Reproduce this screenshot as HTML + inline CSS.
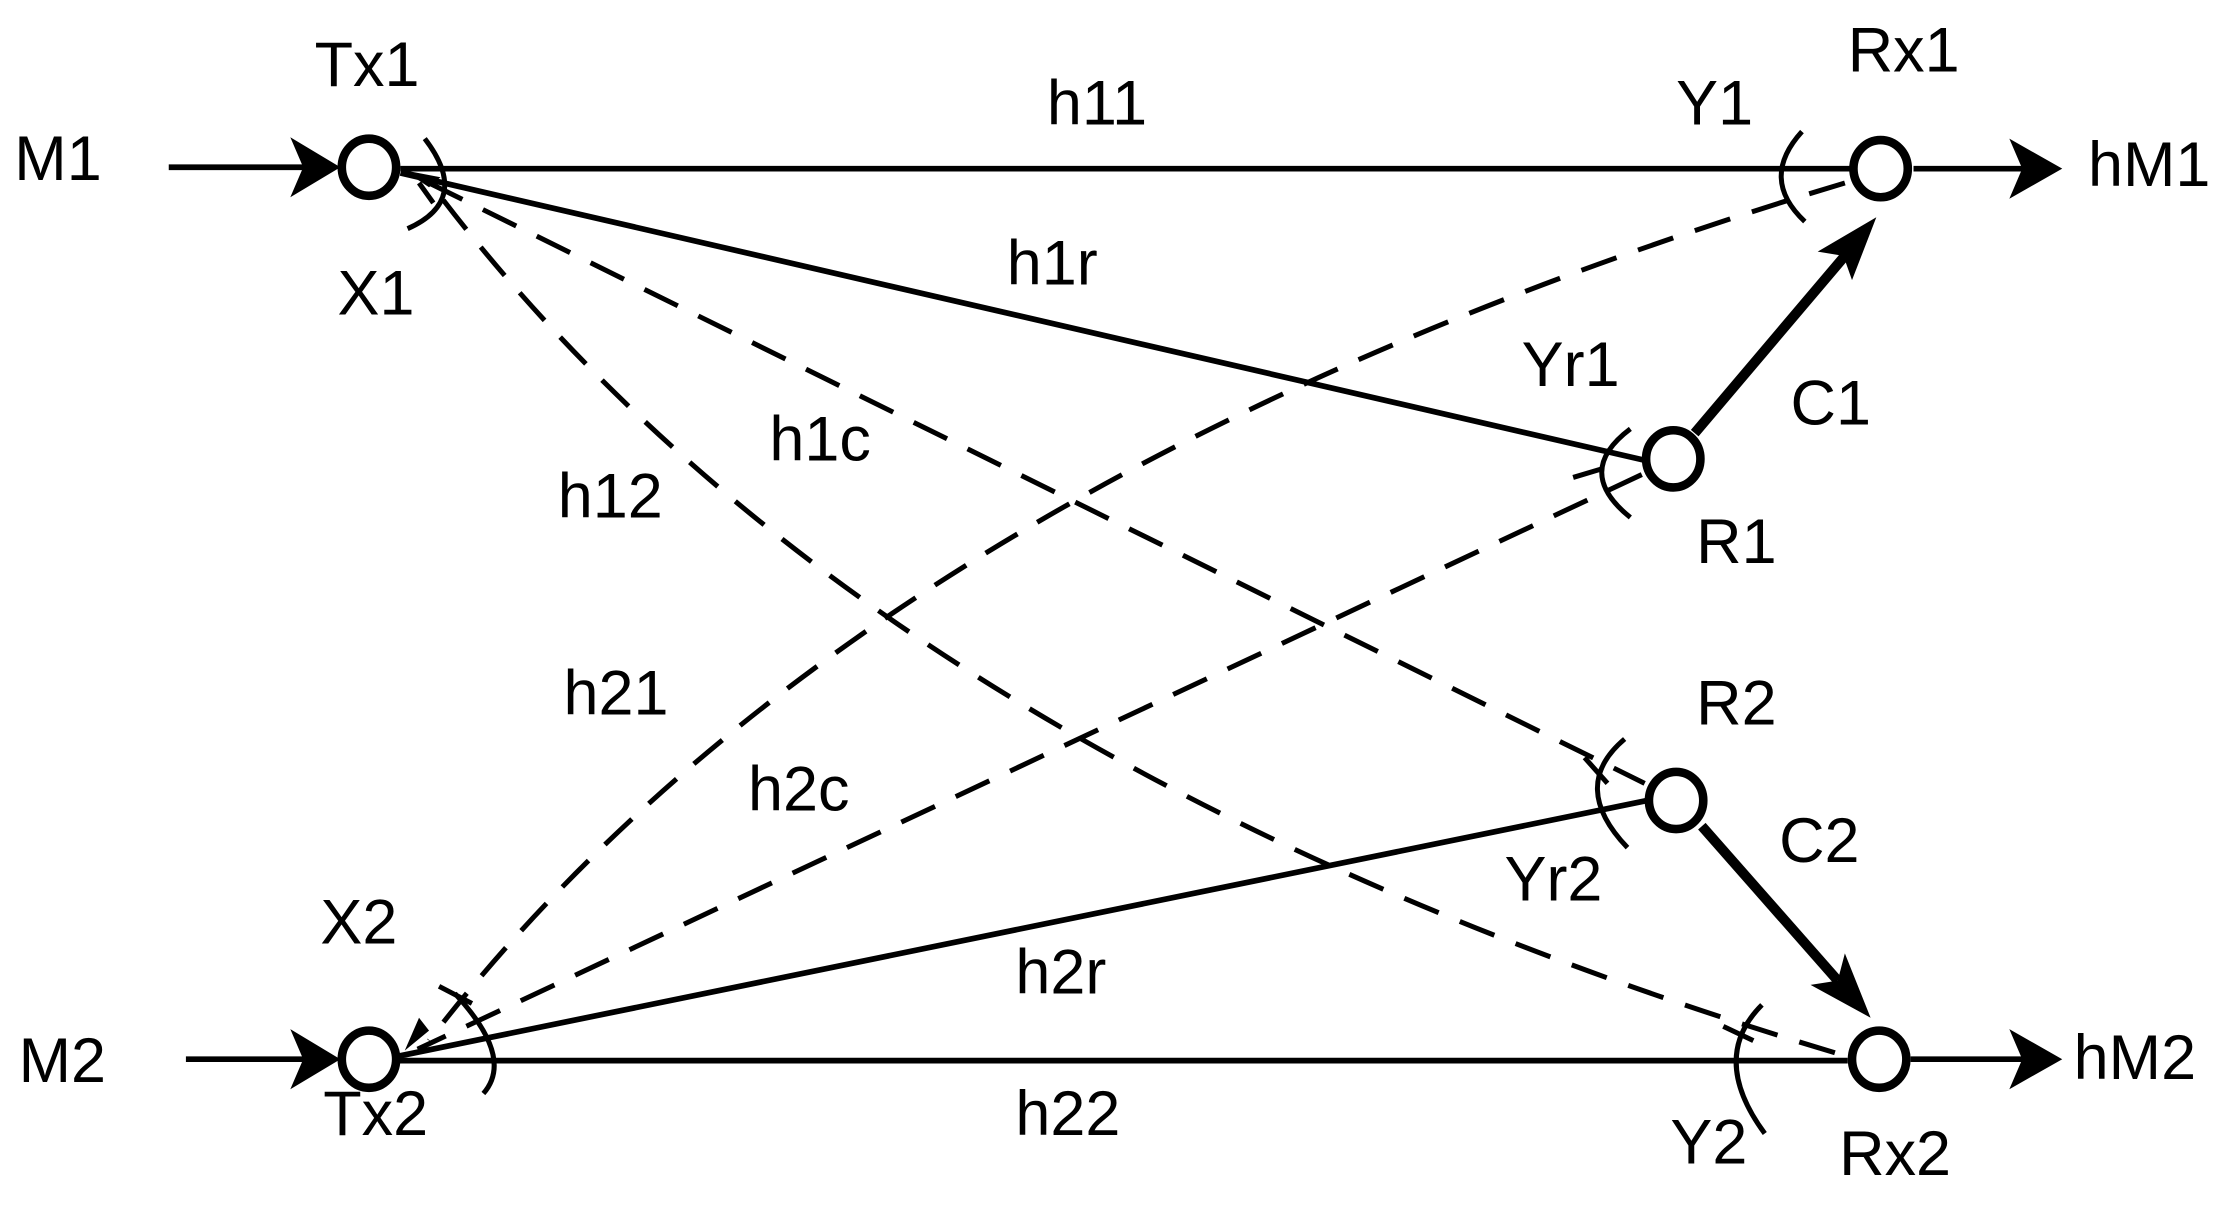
<!DOCTYPE html>
<html><head><meta charset="utf-8"><style>
html,body{margin:0;padding:0;background:#fff;}
svg{display:block;}
text{font-family:"Liberation Sans",sans-serif;font-size:44px;fill:#000;}
</style></head><body>
<svg width="2231" height="1205" viewBox="0 0 1560 843" preserveAspectRatio="none" xmlns="http://www.w3.org/2000/svg">
<g stroke="#000" fill="none">
<line x1="280" y1="118" x2="1295" y2="118" stroke-width="4"/>
<line x1="280" y1="121" x2="1150" y2="322" stroke-width="4"/>
<line x1="278" y1="739" x2="1152" y2="560" stroke-width="4"/>
<line x1="278" y1="742" x2="1292" y2="742" stroke-width="4"/>
<line x1="118" y1="117" x2="225" y2="117" stroke-width="4"/>
<line x1="130" y1="741" x2="225" y2="741" stroke-width="4"/>
<line x1="1338" y1="118" x2="1425" y2="118" stroke-width="4"/>
<line x1="1336" y1="741" x2="1425" y2="741" stroke-width="4"/>
<g stroke-width="3.5" stroke-dasharray="26,16">
<path d="M1290 128 Q603 334 300 728"/>
<line x1="1148" y1="332" x2="292" y2="734"/>
<line x1="300" y1="128" x2="1150" y2="548"/>
<path d="M310 140 Q615 537 1288 738"/>
</g>
<line x1="1185" y1="303" x2="1290" y2="179" stroke-width="7"/>
<line x1="1190" y1="578" x2="1285" y2="686" stroke-width="7"/>
<g stroke-width="3.5">
<path d="M297 97 Q330 140 285 160"/>
<path d="M1260 92 Q1230 125 1262 155"/>
<path d="M1140 300 Q1100 330 1140 362"/>
<path d="M1136 517 Q1097 550 1138 593"/>
<path d="M1232 703 Q1195 740 1234 793"/>
<path d="M318 695 Q360 740 338 765"/>
<line x1="1100" y1="334" x2="1120" y2="328"/>
<line x1="1108" y1="530" x2="1124" y2="548"/>
<line x1="1205" y1="718" x2="1226" y2="728"/>
<line x1="307" y1="690" x2="330" y2="702"/>
<line x1="293" y1="128" x2="303" y2="142"/>
</g>
<g stroke-width="6" fill="#fff">
<ellipse cx="258" cy="117" rx="19" ry="20"/>
<ellipse cx="1315" cy="118" rx="19" ry="20"/>
<ellipse cx="1170" cy="321" rx="19" ry="20"/>
<ellipse cx="1172" cy="560" rx="19" ry="20"/>
<ellipse cx="258" cy="741" rx="19" ry="20"/>
<ellipse cx="1314" cy="741" rx="19" ry="20"/>
</g>
</g>
<g fill="#000">
<polygon points="238,117 203,96 212,117 203,138"/>
<polygon points="238,741 203,720 212,741 203,762"/>
<polygon points="1442,118 1405,97 1414,118 1405,139"/>
<polygon points="1442,741 1405,720 1414,741 1405,762"/>
<polygon points="1312,152 1271,176 1289,179 1295,196"/>
<polygon points="1308,712 1290,667 1285,686 1266,689"/>
<polygon points="282,119 308,124 300,131"/>
<polygon points="283,735 293,712 300,721"/>
</g>
<g>
<text x="10" y="126">M1</text>
<text x="220" y="60">Tx1</text>
<text x="732" y="87">h11</text>
<text x="1172" y="87">Y1</text>
<text x="1292" y="50">Rx1</text>
<text x="1460" y="130">hM1</text>
<text x="236" y="220">X1</text>
<text x="704" y="199">h1r</text>
<text x="1064" y="270">Yr1</text>
<text x="1252" y="297">C1</text>
<text x="538" y="322">h1c</text>
<text x="390" y="362">h12</text>
<text x="1186" y="394">R1</text>
<text x="394" y="500">h21</text>
<text x="1186" y="507">R2</text>
<text x="523" y="567">h2c</text>
<text x="1244" y="603">C2</text>
<text x="1052" y="630">Yr2</text>
<text x="224" y="660">X2</text>
<text x="710" y="695">h2r</text>
<text x="13" y="757">M2</text>
<text x="1450" y="755">hM2</text>
<text x="226" y="794">Tx2</text>
<text x="710" y="794">h22</text>
<text x="1168" y="814">Y2</text>
<text x="1286" y="822">Rx2</text>
</g>
</svg>
</body></html>
